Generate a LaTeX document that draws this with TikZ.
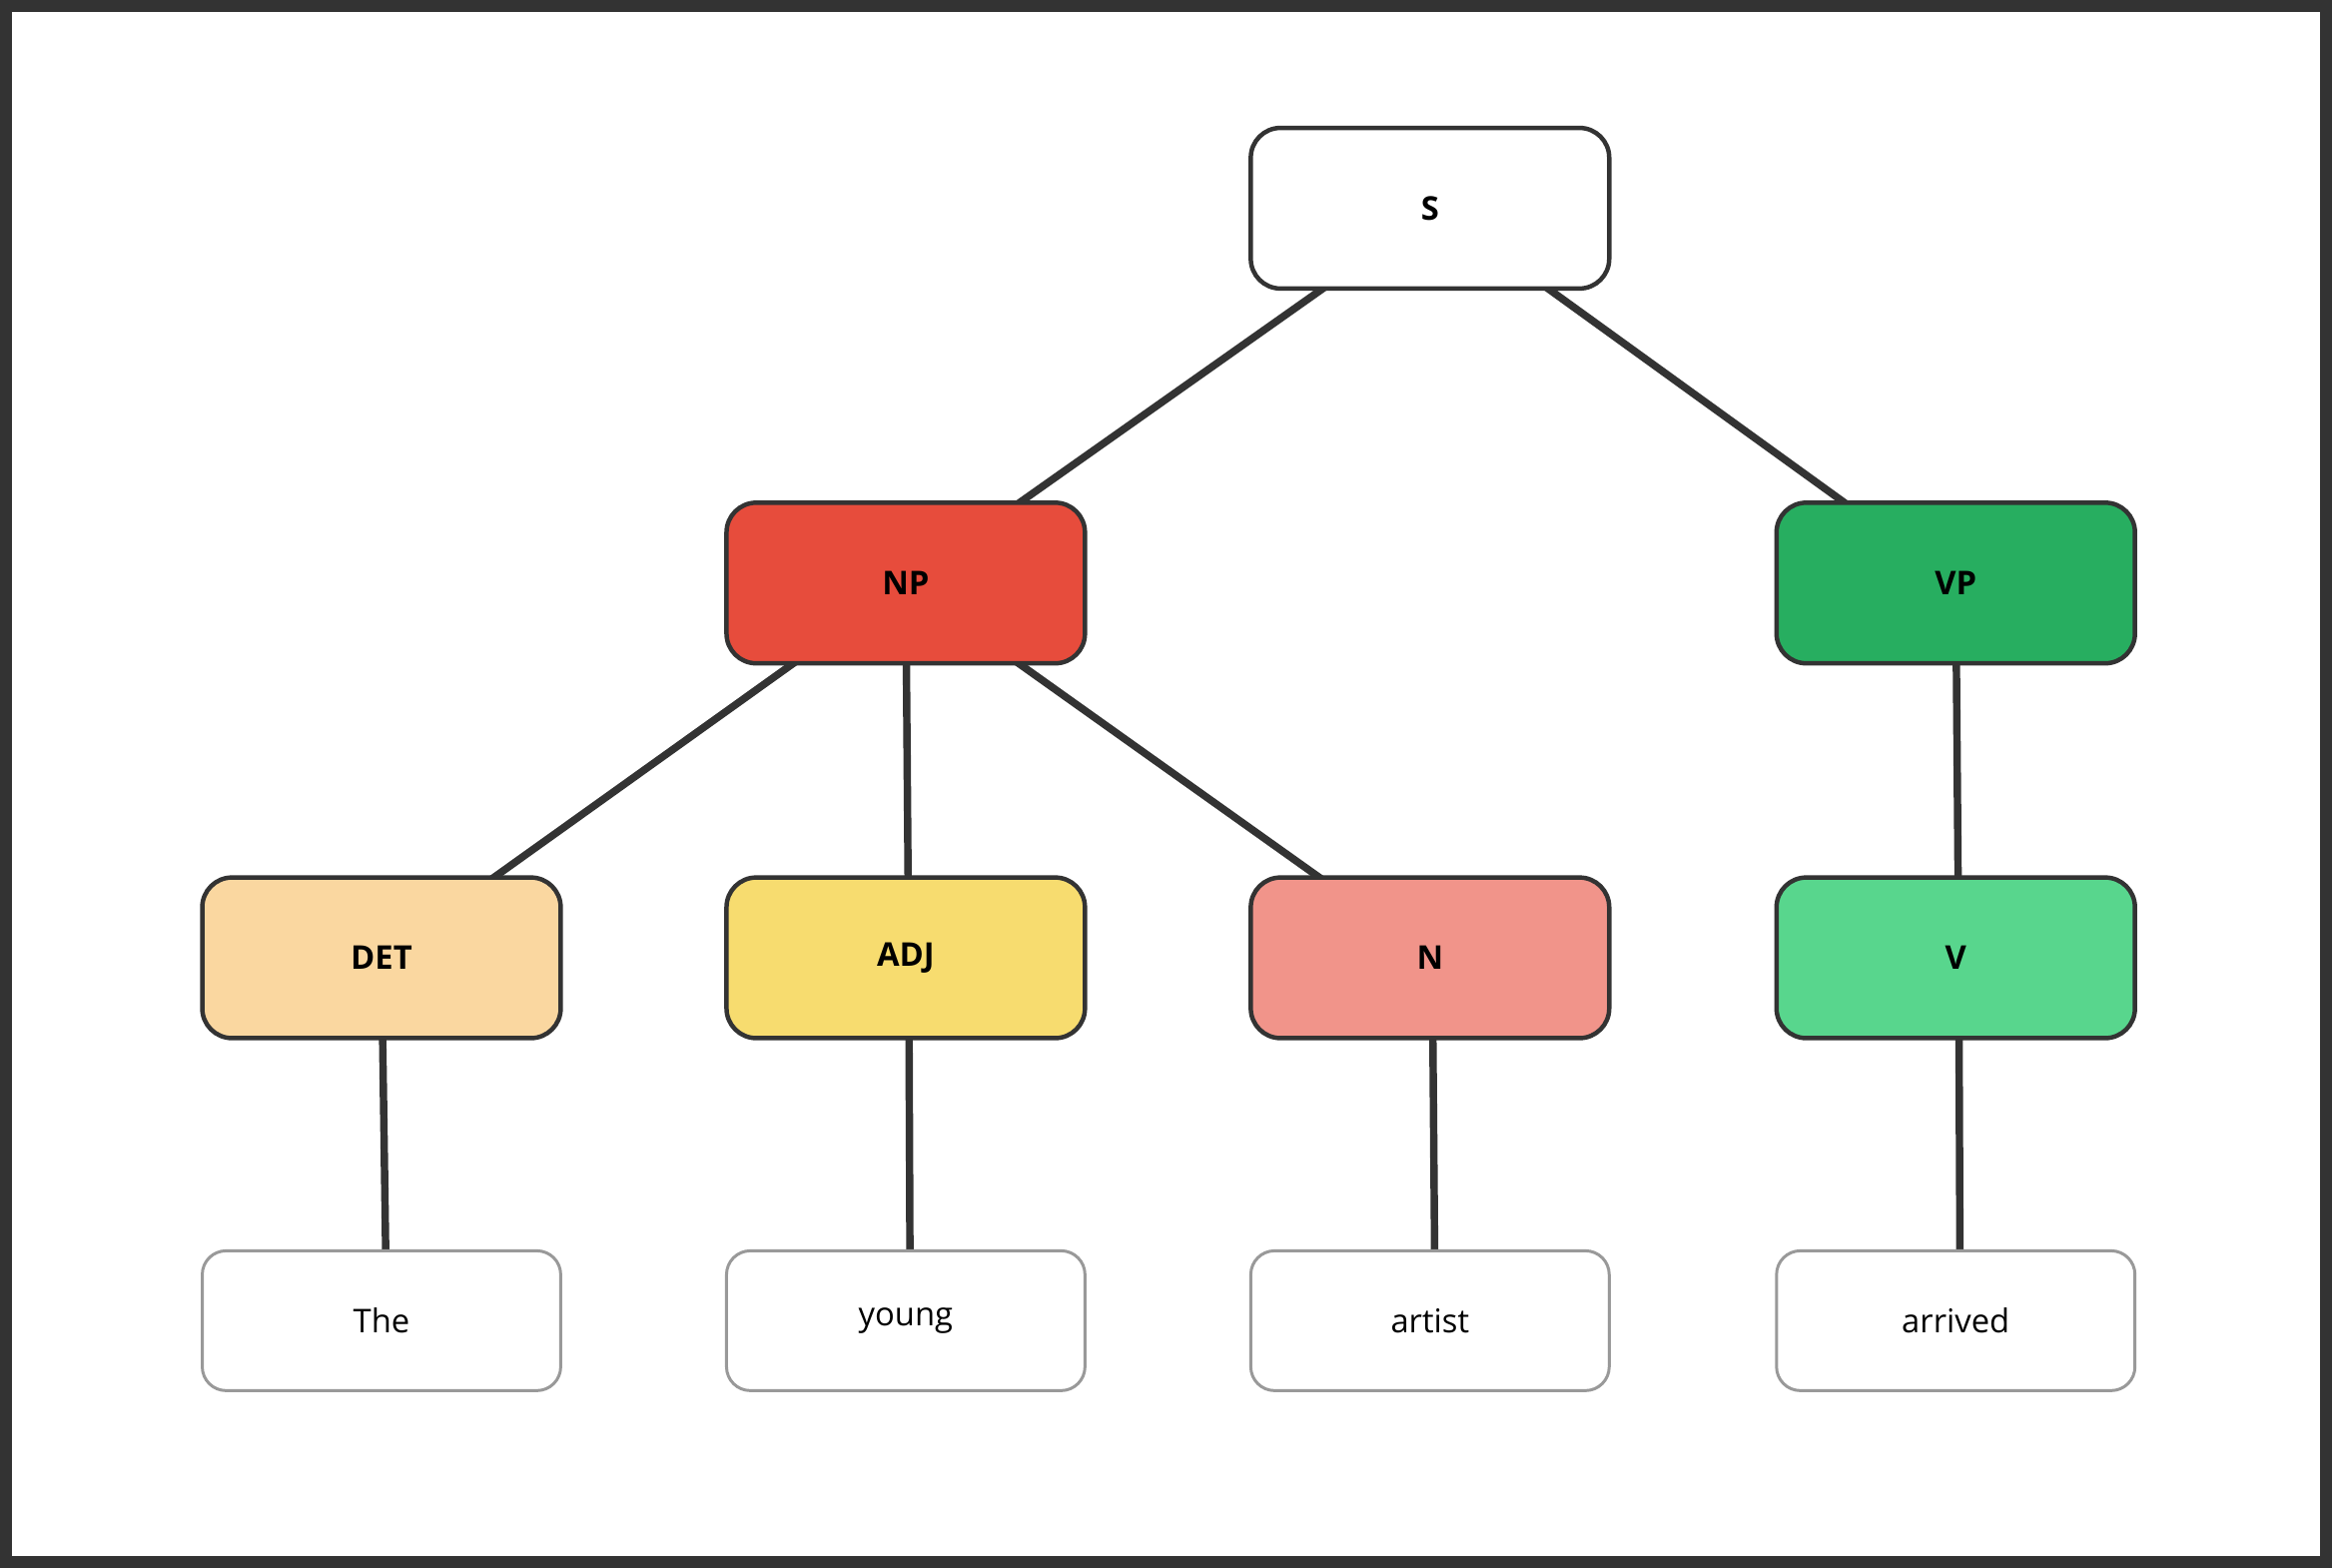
\documentclass[tikz,border=0pt]{standalone}
\usepackage{fontspec}
\setmainfont{Open Sans}
\begin{document}
\begin{tikzpicture}[x=1pt,y=-1pt,
 cat/.style={draw=black!80,line width=3pt,rounded corners=20pt,minimum width=241pt,minimum height=108pt,font=\fontsize{22}{26}\selectfont\bfseries,inner sep=0pt},
 leaf/.style={draw=black!40,fill=white,line width=2pt,rounded corners=16pt,minimum width=241pt,minimum height=94pt,font=\fontsize{22}{26}\selectfont,inner sep=0pt},
 edge/.style={draw=black!80,line width=5pt}]
\useasboundingbox (0,0) rectangle (1568,1054);
\fill[white] (0,0) rectangle (1568,1054);
\draw[black!80,line width=8pt] (4,4) rectangle (1564,1050);
\coordinate (s) at (966,140);
\coordinate (np) at (609,392);
\coordinate (vp) at (1315,392);
\coordinate (det) at (256.5,644);
\coordinate (adj) at (611,644);
\coordinate (n) at (963,644);
\coordinate (v) at (1317,644);
\coordinate (w1) at (260,888);
\coordinate (w2) at (612,888);
\coordinate (w3) at (965,888);
\coordinate (w4) at (1318,888);
\draw[edge] (s)--(np); \draw[edge] (s)--(vp);
\draw[edge] (np)--(det); \draw[edge] (np)--(adj); \draw[edge] (np)--(n);
\draw[edge] (vp)--(v);
\draw[edge] (det)--(w1); \draw[edge] (adj)--(w2); \draw[edge] (n)--(w3); \draw[edge] (v)--(w4);
\node[cat,fill=white] (S) at (961.5,140) {S};
\node[cat,fill={rgb,255:red,231;green,76;blue,60}] (NP) at (609,392) {NP};
\node[cat,fill={rgb,255:red,39;green,174;blue,96}] (VP) at (1315,392) {VP};
\node[cat,fill={rgb,255:red,250;green,215;blue,160}] (DET) at (256.5,644) {DET};
\node[cat,fill={rgb,255:red,247;green,220;blue,111}] (ADJ) at (609,644) {ADJ};
\node[cat,fill={rgb,255:red,241;green,148;blue,138}] (N) at (961.5,644) {N};
\node[cat,fill={rgb,255:red,88;green,214;blue,141}] (V) at (1315,644) {V};
\node[leaf] (The) at (256.5,888) {The};
\node[leaf] (young) at (609,888) {young};
\node[leaf] (artist) at (961.5,888) {artist};
\node[leaf] (arrived) at (1315,888) {arrived};
\end{tikzpicture}
\end{document}
